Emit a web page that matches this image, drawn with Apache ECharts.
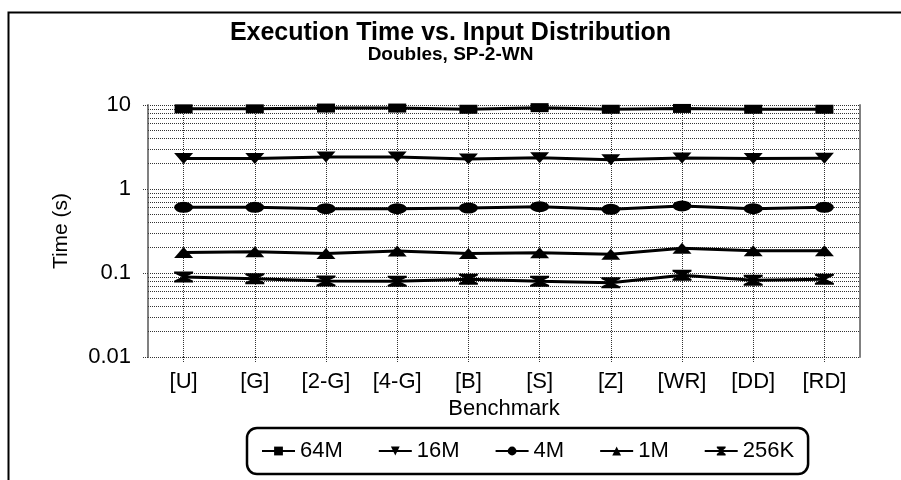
<!DOCTYPE html>
<html>
<head>
<meta charset="utf-8">
<script src="https://cdn.jsdelivr.net/npm/echarts@6/dist/echarts.min.js"></script>
<style>html,body{margin:0;padding:0;background:#fff;}#c{width:901px;height:480px;}</style>
</head>
<body>
<div id="c"></div>
<script>
const categories = ['[U]','[G]','[2-G]','[4-G]','[B]','[S]','[Z]','[WR]','[DD]','[RD]'];
const s64M  = [9.0, 9.0, 9.2, 9.2, 8.9, 9.3, 8.9, 9.1, 8.9, 8.9];
const s16M  = [2.30, 2.30, 2.40, 2.40, 2.28, 2.36, 2.23, 2.34, 2.30, 2.32];
const s4M   = [0.605, 0.605, 0.583, 0.583, 0.594, 0.616, 0.573, 0.628, 0.583, 0.605];
const s1M   = [0.176, 0.179, 0.171, 0.183, 0.171, 0.174, 0.167, 0.197, 0.184, 0.184];
const s256K = [0.0896, 0.0857, 0.0803, 0.080, 0.084, 0.080, 0.0767, 0.094, 0.0818, 0.084];
const seriesNames = ['64M','16M','4M','1M','256K'];
const yTickLabels = {'10':'10','1':'1','0.1':'0.1','0.01':'0.01'};
const minorGrid = [];
[0.01, 0.1, 1].forEach(d => { for (let k = 2; k <= 9; k++) minorGrid.push(+(d * k).toPrecision(3)); });

const FONT = '"Liberation Sans", Arial, sans-serif';
const dotted = { color: '#333', width: 1, type: [1, 1] };
const hourglass = 'path://M0,0 L10,0 L10,1.6 L6,5 L10,8.4 L10,10 L0,10 L0,8.4 L4,5 L0,1.6 Z';

function mkSeries(name, data, symbol, size, rotate) {
  return {
    name, type: 'line', data, symbol, symbolSize: size, symbolRotate: rotate || 0,
    showAllSymbol: true, z: 3,
    lineStyle: { color: '#000', width: 3 },
    itemStyle: { color: '#000', borderWidth: 0 },
    emphasis: { disabled: true }
  };
}

const chart = echarts.init(document.getElementById('c'), null, { renderer: 'canvas' });
chart.setOption({
  animation: false,
  backgroundColor: '#fff',
  textStyle: { fontFamily: FONT },
  graphic: [{
    type: 'rect', left: 6, top: 10, silent: true, z: 0,
    shape: { x: 0, y: 0, width: 1000, height: 1000 },
    style: { fill: 'none', stroke: '#000', lineWidth: 2 }
  }],
  title: [{
    text: 'Execution Time vs. Input Distribution',
    left: 'center', top: 21, padding: 0,
    textStyle: { fontFamily: FONT, fontSize: 25, fontWeight: 'bold', color: '#000' }
  }, {
    text: 'Doubles, SP-2-WN',
    left: 'center', top: 45, padding: 0,
    textStyle: { fontFamily: FONT, fontSize: 19, fontWeight: 'bold', color: '#000' }
  }],
  grid: { left: 148, right: 41, top: 105, bottom: 123, containLabel: false },
  legend: {
    data: seriesNames,
    left: 247, top: 428,
    padding: [12, 14, 12, 14],
    borderColor: '#000', borderWidth: 2.5, borderRadius: 10,
    itemWidth: 33, itemHeight: 11, itemGap: 35,
    textStyle: { fontFamily: FONT, fontSize: 22, color: '#000' }
  },
  xAxis: {
    type: 'category', data: categories, boundaryGap: true,
    name: 'Benchmark', nameLocation: 'middle', nameGap: 38,
    nameTextStyle: { fontFamily: FONT, fontSize: 22, color: '#000' },
    axisLine: { show: false },
    axisTick: { show: true, alignWithLabel: true, length: 5, lineStyle: dotted },
    axisLabel: { fontFamily: FONT, fontSize: 22, color: '#000', margin: 14, interval: 0 },
    splitLine: { show: false }
  },
  yAxis: [{
    type: 'log', logBase: 10, min: 0.01, max: 10,
    name: 'Time (s)', nameLocation: 'middle', nameGap: 76, nameRotate: 90,
    nameTextStyle: { fontFamily: FONT, fontSize: 21, color: '#000' },
    axisLine: { show: true, lineStyle: { color: '#808080', width: 2 } },
    axisTick: { show: true, length: 5, lineStyle: dotted },
    axisLabel: { fontFamily: FONT, fontSize: 22, color: '#000', margin: 17,
      formatter: v => yTickLabels[String(+v.toPrecision(3))] || String(+v.toPrecision(3)) },
    splitLine: { show: true, lineStyle: dotted }
  }, {
    type: 'log', logBase: 10, min: 0.01, max: 10, position: 'right',
    axisLine: { show: true, lineStyle: { color: '#808080', width: 2 } },
    axisTick: { show: false }, axisLabel: { show: false }, splitLine: { show: false }
  }],
  series: [
    {
      name: 'grid', type: 'line', data: [], z: 1, silent: true,
      markLine: {
        silent: true, symbol: ['none', 'none'], z: 1, animation: false,
        label: { show: false },
        lineStyle: dotted,
        emphasis: { disabled: true },
        data: minorGrid.map(v => ({ yAxis: v })).concat(categories.map(c => ({ xAxis: c })))
      }
    },
    mkSeries('64M', s64M, 'rect', [18, 9]),
    mkSeries('16M', s16M, 'triangle', [19, 11], 180),
    mkSeries('4M', s4M, 'circle', [19, 11]),
    mkSeries('1M', s1M, 'triangle', [19, 11]),
    mkSeries('256K', s256K, hourglass, [19, 11])
  ]
});
</script>
</body>
</html>
